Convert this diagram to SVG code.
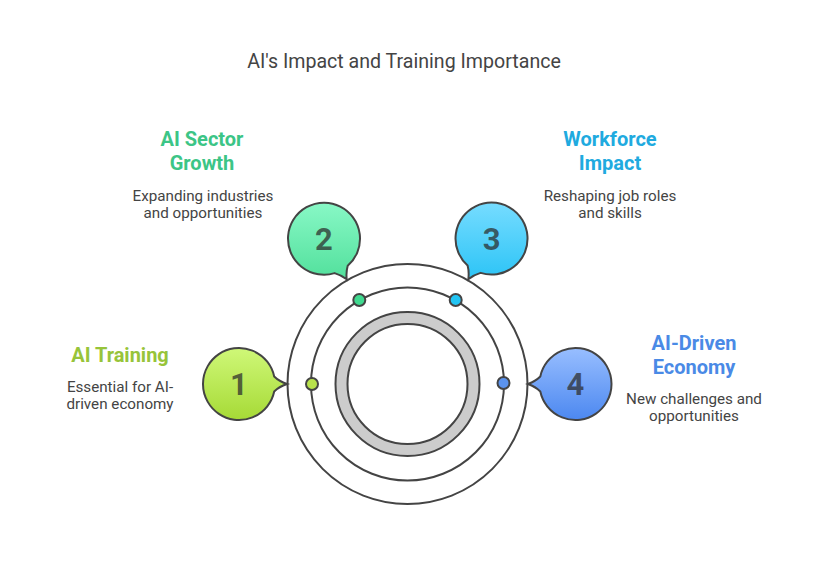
<svg xmlns="http://www.w3.org/2000/svg" width="816" height="564" viewBox="0 0 816 564">
<defs>
<linearGradient id="g1" x1="0" y1="0" x2="0" y2="1"><stop offset="0" stop-color="#CFF878"/><stop offset="1" stop-color="#A6DA36"/></linearGradient>
<linearGradient id="g2" x1="0" y1="0" x2="0" y2="1"><stop offset="0" stop-color="#88F8C6"/><stop offset="1" stop-color="#52E09C"/></linearGradient>
<linearGradient id="g3" x1="0" y1="0" x2="0" y2="1"><stop offset="0" stop-color="#76DCFF"/><stop offset="1" stop-color="#2CC4F6"/></linearGradient>
<linearGradient id="g4" x1="0" y1="0" x2="0" y2="1"><stop offset="0" stop-color="#98BEFF"/><stop offset="1" stop-color="#4C88F0"/></linearGradient>
<style>
.ln{fill:none;stroke:#444;stroke-width:2}
.bub{stroke:#444;stroke-width:2}
.dot{stroke:#444;stroke-width:2}
.num{font-family:Roboto,"Liberation Sans",sans-serif;font-weight:bold;font-size:31px;fill:#2b2b2b;fill-opacity:0.72;text-anchor:middle}
.hd{font-family:Roboto,"Liberation Sans",sans-serif;font-weight:bold;font-size:20px;text-anchor:middle}
.ds{font-family:Roboto,"Liberation Sans",sans-serif;font-size:15.2px;fill:#444;text-anchor:middle}
.tt{font-family:Roboto,"Liberation Sans",sans-serif;font-size:19.6px;fill:#444;text-anchor:middle}
</style>
</defs>
<rect width="816" height="564" fill="#ffffff"/>
<text class="tt" x="404" y="68">AI's Impact and Training Importance</text>

<g id="rings">
<circle class="ln" cx="407.5" cy="384" r="120"/>
<circle class="ln" cx="407.5" cy="384" r="96.5"/>
<circle cx="407.5" cy="384" r="66" fill="none" stroke="#CCCCCC" stroke-width="12"/>
<circle class="ln" cx="407.5" cy="384" r="72"/>
<circle class="ln" cx="407.5" cy="384" r="60"/>
</g>

<g id="connectors">
<circle class="dot" cx="312" cy="384" r="6" fill="#B8E24C"/>
<circle class="dot" cx="359.3" cy="300" r="6" fill="#3FD98F"/>
<circle class="dot" cx="455.7" cy="300" r="6" fill="#22C4F3"/>
<circle class="dot" cx="503.5" cy="383" r="6" fill="#5B93EE"/>
</g>

<g id="node1">
<path class="bub" fill="url(#g1)" d="M 274.2 376.5 Q 278.9 381.2 287 384 Q 278.9 386.8 274.2 391.5 A 36 36 0 1 1 274.2 376.5 Z"/>
<text class="num" x="239" y="395">1</text>
<text class="hd" x="120" y="362" fill="#97C43A">AI Training</text>
<text class="ds" x="120" y="392">Essential for AI-</text>
<text class="ds" x="120" y="409">driven economy</text>
</g>

<g id="node2">
<path class="bub" fill="url(#g2)" d="M 347.7 265.8 Q 345.9 272.2 346.7 279.3 Q 341 274.9 334.6 273.1 A 36 36 0 1 1 347.7 265.8 Z"/>
<text class="num" x="324" y="250">2</text>
<text class="hd" x="202" y="146" fill="#3CC586">AI Sector</text>
<text class="hd" x="202" y="170" fill="#3CC586">Growth</text>
<text class="ds" x="203" y="201">Expanding industries</text>
<text class="ds" x="203" y="218">and opportunities</text>
</g>

<g id="node3">
<path class="bub" fill="url(#g3)" d="M 480.6 272.9 Q 474.2 274.7 468.3 279.3 Q 469.3 271.9 467.6 265.5 A 36 36 0 1 1 480.6 272.9 Z"/>
<text class="num" x="491.7" y="250">3</text>
<text class="hd" x="610" y="146" fill="#20AADF">Workforce</text>
<text class="hd" x="610" y="170" fill="#20AADF">Impact</text>
<text class="ds" x="610" y="201">Reshaping job roles</text>
<text class="ds" x="610" y="218">and skills</text>
</g>

<g id="node4">
<path class="bub" fill="url(#g4)" d="M 540.3 391.5 Q 535.6 386.8 528 384 Q 535.6 381.2 540.3 376.5 A 36 36 0 1 1 540.3 391.5 Z"/>
<text class="num" x="575.5" y="395">4</text>
<text class="hd" x="694" y="350" fill="#4A8AE6">AI-Driven</text>
<text class="hd" x="694" y="374" fill="#4A8AE6">Economy</text>
<text class="ds" x="694" y="404">New challenges and</text>
<text class="ds" x="694" y="421">opportunities</text>
</g>
</svg>
